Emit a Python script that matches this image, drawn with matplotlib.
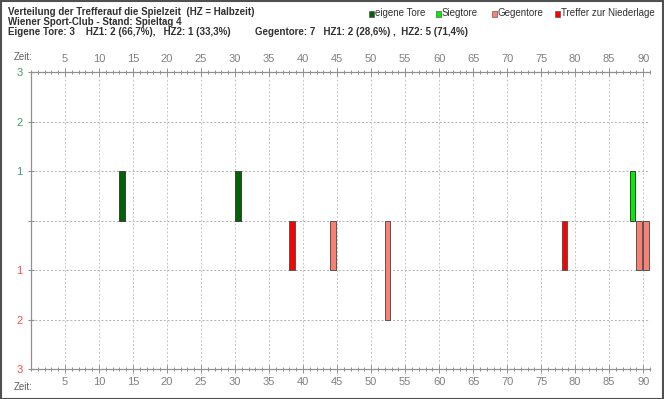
import matplotlib
matplotlib.use("Agg")
import matplotlib.pyplot as plt
from matplotlib.patches import Rectangle
from matplotlib.ticker import MultipleLocator

# ---- data ----
own_minutes = [13, 30, 88]
own_counts = [1, 1, 1]
own_kind = ["eigene Tore", "eigene Tore", "Siegtore"]

conc_minutes = [38, 44, 52, 78, 89, 90]
conc_counts = [1, 1, 2, 1, 1, 1]
conc_kind = ["Treffer zur Niederlage", "Gegentore", "Gegentore",
             "Treffer zur Niederlage", "Gegentore", "Gegentore"]

legend_labels = ["eigene Tore", "Siegtore", "Gegentore", "Treffer zur Niederlage"]
kind_colors = {"eigene Tore": "#006400", "Siegtore": "#00ee00",
               "Gegentore": "#fa8072", "Treffer zur Niederlage": "#ff0000"}

x_ticks = list(range(5, 95, 5))
y_top_labels = ["3", "2", "1"]
y_bot_labels = ["1", "2", "3"]

title_lines = [
    "Verteilung der Trefferauf die Spielzeit  (HZ = Halbzeit)",
    "Wiener Sport-Club - Stand: Spieltag 4",
    "Eigene Tore: 3    HZ1: 2 (66,7%),   HZ2: 1 (33,3%)",
]
title_line3b = "Gegentore: 7   HZ1: 2 (28,6%) ,  HZ2: 5 (71,4%)"

FONT = "Liberation Sans"
W, H = 664, 399
fig = plt.figure(figsize=(W / 100, H / 100), dpi=100)
fig.patch.set_facecolor("white")

ax_l, ax_r, ax_t, ax_b = 31, 650, 72, 369
ax = fig.add_axes([ax_l / W, 1 - ax_b / H, (ax_r - ax_l) / W, (ax_b - ax_t) / H])
ax.set_xlim(0, 91)
ax.set_ylim(-3, 3)

bw = 0.85
for m, c, k in zip(own_minutes, own_counts, own_kind):
    ax.bar(m, c, width=bw, align="edge", bottom=0, color=kind_colors[k],
           edgecolor="#404040", linewidth=0.7, zorder=3)
for m, c, k in zip(conc_minutes, conc_counts, conc_kind):
    ax.bar(m, -c, width=bw, align="edge", bottom=0, color=kind_colors[k],
           edgecolor="#555555", linewidth=0.7, zorder=3)

# grid
for y in [-2, -1, 0, 1, 2]:
    ax.axhline(y, color="#b0b0b0", lw=0.7, ls=(0, (2, 2)), zorder=1)
for x in x_ticks:
    ax.axvline(x, color="#c4c4c4", lw=0.7, ls=(0, (2, 2)), zorder=1)

for s in ["top", "bottom", "left"]:
    ax.spines[s].set_color("#909090")
    ax.spines[s].set_linewidth(0.9)
ax.spines["right"].set_visible(False)

ax.xaxis.set_major_locator(MultipleLocator(5))
ax.xaxis.set_minor_locator(MultipleLocator(1))
ax.tick_params(axis="x", which="both", top=True, bottom=True,
               labeltop=True, labelbottom=True, direction="inout",
               color="#909090", width=0.7)
ax.tick_params(axis="x", which="major", length=6, pad=3,
               labelsize=8, labelcolor="#808080")
ax.tick_params(axis="x", which="minor", length=3)
ax.set_xticks(x_ticks)
ax.set_xticklabels([str(v) for v in x_ticks], fontfamily=FONT)

ax.set_yticks([3, 2, 1, 0, -1, -2, -3])
ax.set_yticklabels(y_top_labels + [""] + y_bot_labels, fontfamily=FONT)
ax.tick_params(axis="y", direction="inout", length=4, color="#909090",
               labelsize=8, pad=4)
for lbl, col in zip(ax.get_yticklabels(),
                    ["#3aa070"] * 3 + ["white"] + ["#ff4d4d"] * 3):
    lbl.set_color(col)

# "Zeit:" labels
fig.text(14 / W, 1 - 57 / H, "Zeit:", fontsize=7, color="#606060",
         fontfamily=FONT, va="center", ha="left")
fig.text(14 / W, 1 - 387 / H, "Zeit:", fontsize=7, color="#606060",
         fontfamily=FONT, va="center", ha="left")

# title
tc = "#303030"
for i, t in enumerate(title_lines):
    fig.text(8 / W, 1 - (12 + 10 * i) / H, t, fontsize=7, fontweight="bold",
             color=tc, fontfamily=FONT, va="center", ha="left")
fig.text(255 / W, 1 - 32 / H, title_line3b, fontsize=7, fontweight="bold",
         color=tc, fontfamily=FONT, va="center", ha="left")

# legend
leg_x = [369, 436, 492, 555]
for x, lab in zip(leg_x, legend_labels):
    fig.patches.append(Rectangle((x / W, 1 - 16.5 / H), 5 / W, 6 / H,
                                 transform=fig.transFigure,
                                 facecolor=kind_colors[lab], edgecolor="#404040",
                                 linewidth=0.4))
    fig.text((x + 6) / W, 1 - 13.5 / H, lab, fontsize=7, color="#303030",
             fontfamily=FONT, va="center", ha="left")

# figure border
fig.patches.append(Rectangle((0.5 / W, 0.5 / H), (W - 1.5) / W, (H - 1.5) / H,
                             transform=fig.transFigure, fill=False,
                             edgecolor="#505050", linewidth=1.5))

fig.savefig("out.png", dpi=100)
